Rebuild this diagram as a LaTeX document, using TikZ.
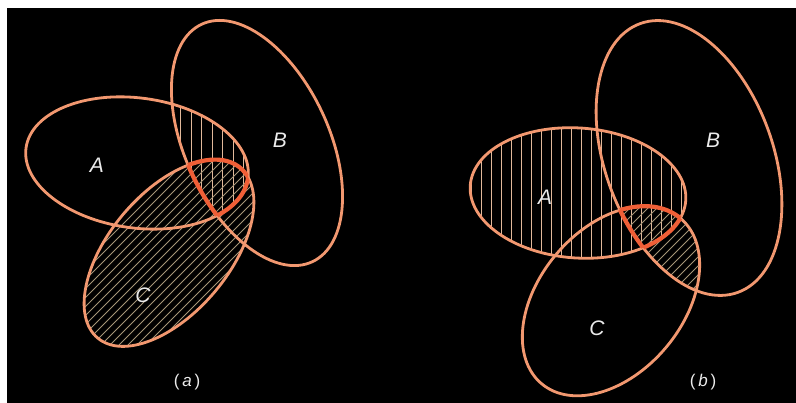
\documentclass[tikz,border=0pt]{standalone}
\usepackage{fontspec}
\setmainfont{Liberation Sans}
\definecolor{edge}{RGB}{242,152,112}
\definecolor{edgeb}{RGB}{240,95,55}
\definecolor{hv}{RGB}{225,185,155}
\definecolor{hd}{RGB}{165,150,120}
\definecolor{lab}{RGB}{235,235,235}
\begin{document}
\begin{tikzpicture}[x=1pt,y=1pt,
  outl/.style={draw=edge,line width=2.8pt},
  outb/.style={draw=edgeb,line width=4.2pt},
  hatchv/.style={draw=hv,line width=1pt},
  hatchd/.style={draw=hd,line width=1pt},
  lbl/.style={text=lab,font=\fontsize{21}{24}\selectfont\itshape},
  caplbl/.style={text=lab,font=\fontsize{17}{20}\selectfont},
  elAa/.style={rotate around={-7.7:(137,240)}},
  elBa/.style={rotate around={-65:(257,260)}},
  elCa/.style={rotate around={50:(169,150)}},
  elAb/.style={rotate around={-4:(578,210)}},
  elBb/.style={rotate around={-70:(689,245)}},
  elCb/.style={rotate around={50:(611,102)}}]
\def\pAa{(137,240) ellipse [x radius=112, y radius=65]}
\def\pBa{(257,260) ellipse [x radius=131, y radius=72]}
\def\pCa{(169,150) ellipse [x radius=111, y radius=60]}
\def\pAb{(578,210) ellipse [x radius=108, y radius=65]}
\def\pBb{(689,245) ellipse [x radius=143, y radius=84]}
\def\pCb{(611,102) ellipse [x radius=108, y radius=72]}
\useasboundingbox (0,0) rectangle (796,403);
\fill[white] (0,0) rectangle (796,403);
\fill[black] (7,0) rectangle (796,395);
% ---------- panel (a) hatching ----------
\begin{scope}
  \clip[elAa] \pAa;
  \clip[elBa] \pBa;
  \foreach \x in {159.5,170,...,265} \draw[hatchv] (\x,100) -- (\x,400);
\end{scope}
\begin{scope}
  \clip[elCa] \pCa;
  \foreach \s in {-200,-191,...,230} \draw[hatchd] (\s,0) -- (\s+400,400);
\end{scope}
% ---------- panel (b) hatching ----------
\begin{scope}
  \clip[elAb] \pAb;
  \foreach \x in {471,481,...,690} \draw[hatchv] (\x,100) -- (\x,400);
\end{scope}
\begin{scope}
  \clip[elBb] \pBb;
  \clip[elCb] \pCb;
  \foreach \s in {300,309,...,700} \draw[hatchd] (\s,0) -- (\s+400,400);
\end{scope}
% ---------- outlines ----------
\draw[outl,elAa] \pAa;
\draw[outl,elBa] \pBa;
\draw[outl,elCa] \pCa;
\draw[outl,elAb] \pAb;
\draw[outl,elBb] \pBb;
\draw[outl,elCb] \pCb;
% ---------- bold triple intersection (a) ----------
\begin{scope}
  \clip[elBa] \pBa; \clip[elCa] \pCa;
  \draw[outb,elAa] \pAa;
\end{scope}
\begin{scope}
  \clip[elAa] \pAa; \clip[elCa] \pCa;
  \draw[outb,elBa] \pBa;
\end{scope}
\begin{scope}
  \clip[elAa] \pAa; \clip[elBa] \pBa;
  \draw[outb,elCa] \pCa;
\end{scope}
% ---------- bold triple intersection (b) ----------
\begin{scope}
  \clip[elBb] \pBb; \clip[elCb] \pCb;
  \draw[outb,elAb] \pAb;
\end{scope}
\begin{scope}
  \clip[elAb] \pAb; \clip[elCb] \pCb;
  \draw[outb,elBb] \pBb;
\end{scope}
\begin{scope}
  \clip[elAb] \pAb; \clip[elBb] \pBb;
  \draw[outb,elCb] \pCb;
\end{scope}
% ---------- labels ----------
\node[lbl] (la) at (97,238) {A};
\node[lbl] (lb) at (280,263) {B};
\node[lbl] (lc) at (143,108) {C};
\node[caplbl] (capa) at (187,21) {(\,\textit{a}\,)};
\node[lbl] (mb) at (545,206) {A};
\node[lbl] (nb) at (713,263) {B};
\node[lbl] (ob) at (597,75) {C};
\node[caplbl] (capb) at (703,21) {(\,\textit{b}\,)};
\end{tikzpicture}
\end{document}
